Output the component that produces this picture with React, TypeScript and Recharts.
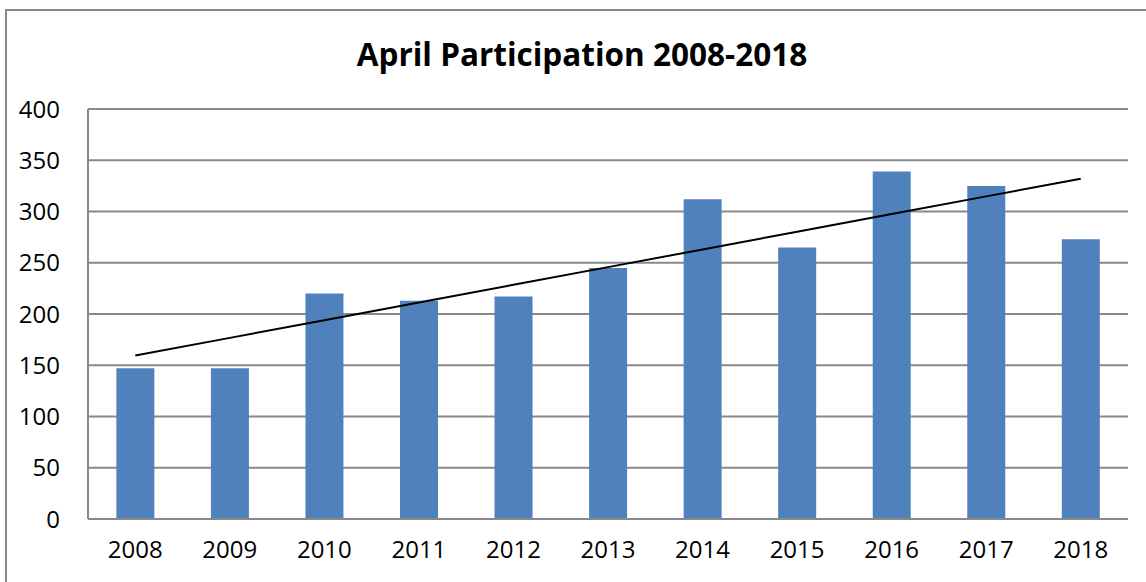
import React from 'react';
import { ComposedChart, Bar, Line, XAxis, YAxis, CartesianGrid } from 'recharts';

const years = ['2008', '2009', '2010', '2011', '2012', '2013', '2014', '2015', '2016', '2017', '2018'];
const participation = [147, 147, 220, 213, 217, 245, 312, 265, 339, 325, 273];
const yTicks = [0, 50, 100, 150, 200, 250, 300, 350, 400];

// Linear trendline (least-squares fit of the participation series, as the spreadsheet draws it)
const n = participation.length;
const meanX = (n - 1) / 2;
const meanY = participation.reduce((a, b) => a + b, 0) / n;
let sxy = 0;
let sxx = 0;
participation.forEach((v, i) => {
  sxy += (i - meanX) * (v - meanY);
  sxx += (i - meanX) * (i - meanX);
});
const slope = sxy / sxx;
const intercept = meanY - slope * meanX;

const data = years.map((year, i) => ({
  year,
  value: participation[i],
  trend: intercept + slope * i,
}));

const FONT = '"Open Sans", "Liberation Sans", Arial, sans-serif';

export default function App() {
  return (
    <div style={{ position: 'absolute', left: 0, top: 0, width: 1146, height: 582, overflow: 'hidden', background: '#fff' }}>
      <div
        style={{
          position: 'absolute',
          left: 5,
          top: 9,
          width: 1200,
          height: 700,
          border: '2px solid #898989',
        }}
      />
      <div
        style={{
          position: 'absolute',
          left: 0,
          top: 32,
          width: 1164,
          textAlign: 'center',
          fontFamily: FONT,
          fontWeight: 'bold',
          fontSize: 31.5,
          lineHeight: '44px',
          color: '#000',
        }}
      >
        April Participation 2008-2018
      </div>
      <div style={{ position: 'absolute', left: 0, top: 0 }}>
        <ComposedChart
          width={1146}
          height={582}
          data={data}
          margin={{ top: 109, right: 18, bottom: 13, left: 0 }}
          barCategoryGap="30%"
        >
          <CartesianGrid vertical={false} stroke="#898989" strokeWidth={2} strokeDasharray="" />
          <XAxis
            dataKey="year"
            height={50}
            tickLine={false}
            axisLine={{ stroke: '#898989', strokeWidth: 2 }}
            tick={{ fill: '#000', fontSize: 24, fontFamily: FONT }}
            tickMargin={16}
            interval={0}
          />
          <YAxis
            width={88}
            domain={[0, 400]}
            ticks={yTicks}
            tickLine={false}
            axisLine={{ stroke: '#898989', strokeWidth: 2 }}
            tick={{ fill: '#000', fontSize: 24, fontFamily: FONT }}
            tickMargin={22}
            interval={0}
          />
          <Bar dataKey="value" fill="#4F81BD" isAnimationActive={false} />
          <Line
            dataKey="trend"
            type="linear"
            stroke="#000"
            strokeWidth={2}
            dot={false}
            activeDot={false}
            isAnimationActive={false}
          />
        </ComposedChart>
      </div>
    </div>
  );
}
